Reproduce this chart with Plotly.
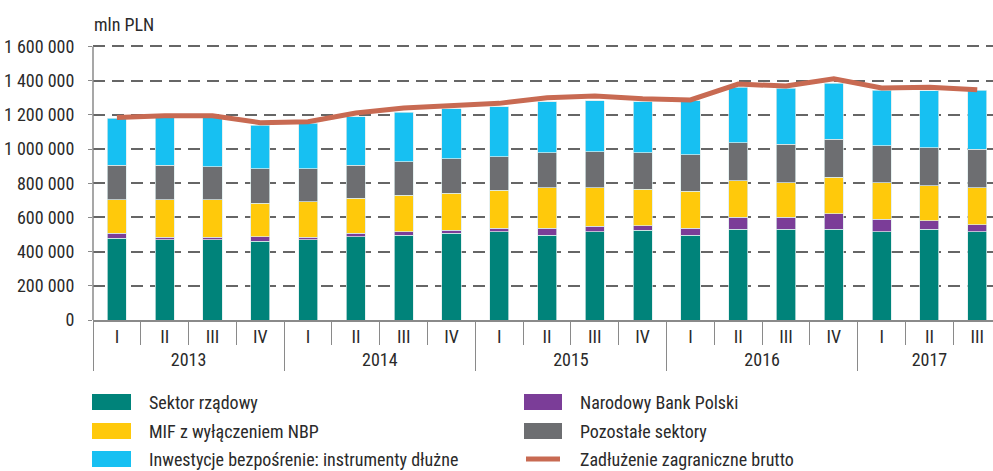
import plotly.graph_objects as go

years = ["2013"] * 4 + ["2014"] * 4 + ["2015"] * 4 + ["2016"] * 4 + ["2017"] * 3
quarters = ["I", "II", "III", "IV"] * 4 + ["I", "II", "III"]

series_names = [
    "Sektor rządowy",
    "Narodowy Bank Polski",
    "MIF z wyłączeniem NBP",
    "Pozostałe sektory",
    "Inwestycje bezpośrenie: instrumenty dłużne",
]
line_name = "Zadłużenie zagraniczne brutto"

sektor_rzadowy = [477, 468, 468, 460, 468, 487, 497, 507, 516, 497, 516, 526, 497, 530, 530, 530, 516, 530, 516]
nbp = [30, 17, 17, 27, 17, 20, 19, 19, 20, 41, 32, 24, 39, 71, 71, 90, 73, 51, 40]
mif = [195, 217, 217, 195, 207, 205, 215, 215, 224, 236, 226, 214, 216, 212, 202, 214, 214, 203, 218]
pozostale = [203, 203, 195, 203, 193, 193, 195, 203, 195, 203, 210, 213, 215, 224, 224, 224, 216, 224, 224]
inwestycje = [275, 284, 288, 255, 265, 284, 288, 292, 293, 300, 299, 300, 314, 324, 328, 326, 326, 333, 347]
zadluzenie = [1185, 1195, 1195, 1154, 1160, 1210, 1240, 1257, 1267, 1300, 1310, 1294, 1287, 1380, 1368, 1411, 1357, 1361, 1347]

y_ticks = [0, 200000, 400000, 600000, 800000, 1000000, 1200000, 1400000, 1600000]
y_labels = ["0", "200 000", "400 000", "600 000", "800 000", "1 000 000", "1 200 000", "1 400 000", "1 600 000"]

colors = ["#00837A", "#7B3D98", "#FFC90B", "#6D6E71", "#17C0F2"]
line_color = "#C86A52"
FONT = "Liberation Sans Narrow, Arial Narrow, Roboto Condensed, Liberation Sans, Arial"
TEXT_COLOR = "#2a2a2a"

x = [years, quarters]
fig = go.Figure()
for name, vals, col in zip(series_names, [sektor_rzadowy, nbp, mif, pozostale, inwestycje], colors):
    fig.add_trace(go.Bar(
        x=x, y=[v * 1000 for v in vals], name=name, marker_color=col,
        marker_line=dict(color="rgba(220,235,235,0.9)", width=0.8),
        width=0.4, showlegend=False,
    ))
fig.add_trace(go.Scatter(
    x=x, y=[v * 1000 for v in zadluzenie], name=line_name, mode="lines",
    line=dict(color=line_color, width=5), showlegend=False,
))

# plot geometry in pixels
L, T, W, H = 93, 43, 900, 277

def px(xp):
    return (xp - L) / W

def py(yp):
    return (T + H - yp) / H

legend_items = [
    (series_names[0], colors[0], 0, 0, "bar"),
    (series_names[2], colors[2], 0, 1, "bar"),
    (series_names[4], colors[4], 0, 2, "bar"),
    (series_names[1], colors[1], 1, 0, "bar"),
    (series_names[3], colors[3], 1, 1, "bar"),
    (line_name, line_color, 1, 2, "line"),
]
col_x = [(92, 131, 147), (524, 562, 578)]
row_y = [402, 431, 459]
shapes = []
annotations = []
for name, col, c, r, kind in legend_items:
    x0, x1, tx = col_x[c]
    yc = row_y[r]
    if kind == "bar":
        shapes.append(dict(type="rect", xref="paper", yref="paper",
                           x0=px(x0), x1=px(x1), y0=py(yc + 8), y1=py(yc - 8),
                           fillcolor=col, line=dict(width=0)))
    else:
        shapes.append(dict(type="line", xref="paper", yref="paper",
                           x0=px(x0 + 2), x1=px(x1 - 2), y0=py(yc), y1=py(yc),
                           line=dict(color=col, width=5)))
    annotations.append(dict(text=name, xref="paper", yref="paper", x=px(tx), y=py(yc),
                            xanchor="left", yanchor="middle", showarrow=False,
                            font=dict(size=18, color=TEXT_COLOR, family=FONT)))

annotations.append(dict(text="mln PLN", xref="paper", yref="paper", x=px(92), y=py(25),
                        xanchor="left", yanchor="middle", showarrow=False,
                        font=dict(size=18, color=TEXT_COLOR, family=FONT)))

fig.update_layout(
    width=993, height=471,
    margin=dict(l=L, r=0, t=T, b=471 - T - H),
    barmode="stack",
    plot_bgcolor="white", paper_bgcolor="white",
    font=dict(family=FONT, size=18, color=TEXT_COLOR),
    shapes=shapes, annotations=annotations,
    showlegend=False,
)
fig.update_yaxes(
    range=[0, 1620000], tickvals=y_ticks, ticktext=y_labels,
    showgrid=True, gridcolor="#666666", gridwidth=1.5, griddash="12px,7px",
    showline=False,
    ticks="outside", ticklen=4, tickcolor="#8A8A8A", ticklabelstandoff=10,
    zeroline=False, automargin=False,
)
fig.update_xaxes(
    type="multicategory", range=[-0.5, 18.33],
    showline=True, linecolor="#8A8A8A", linewidth=1.5,
    ticks="outside", tickson="boundaries", ticklen=23, tickcolor="#8A8A8A",
    showdividers=True, dividercolor="#8A8A8A", dividerwidth=1,
    showgrid=False, automargin=False,
)
# left axis line from 0 up to the top tick only (as in the reference)
fig.add_shape(type="line", xref="paper", yref="y", x0=0, x1=0, y0=0, y1=1600000,
              line=dict(color="#8A8A8A", width=1.5))

fig.write_html(
    "out.html",
    config={"displayModeBar": False},
    post_script="document.body.style.margin='0';document.body.style.overflow='hidden';",
)
